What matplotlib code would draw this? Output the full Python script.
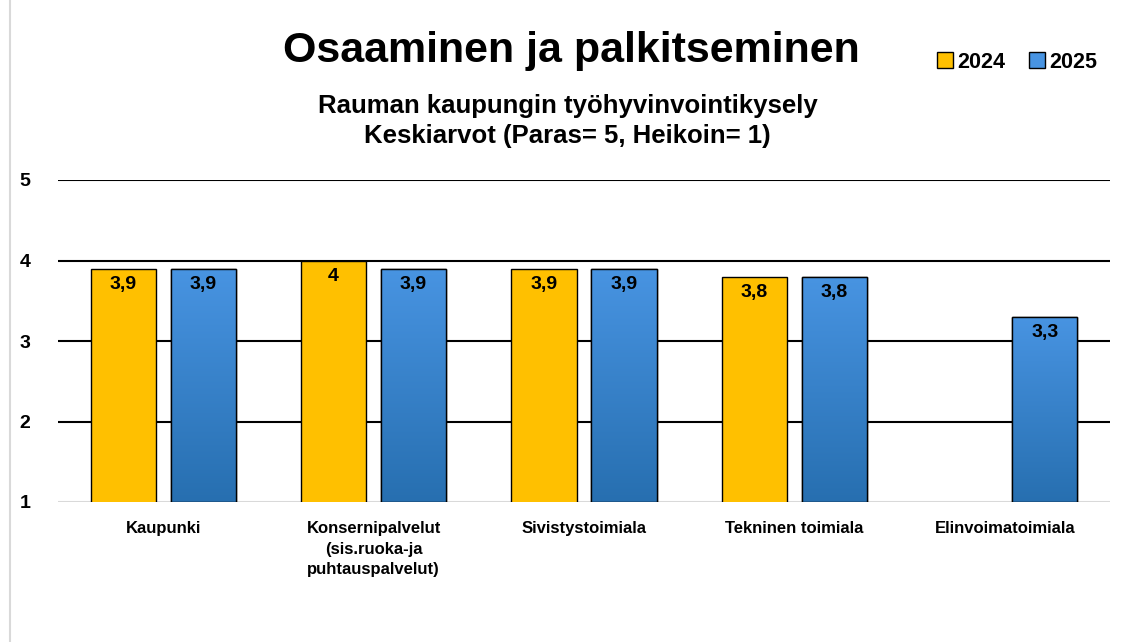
import numpy as np
import matplotlib.pyplot as plt
from matplotlib.lines import Line2D
from matplotlib.patches import Patch

plt.rcParams['font.family'] = ['Liberation Sans', 'DejaVu Sans']
plt.rcParams['font.weight'] = 'bold'

categories = ['Kaupunki', 'Konsernipalvelut\n(sis.ruoka-ja\npuhtauspalvelut)',
              'Sivistystoimiala', 'Tekninen toimiala', 'Elinvoimatoimiala']
v2024 = [3.9, 4.0, 3.9, 3.8, np.nan]
v2025 = [3.9, 3.9, 3.9, 3.8, 3.3]
yticks = [1, 2, 3, 4, 5]

yellow = '#ffc000'
blue_top = np.array([0x48, 0x94, 0xe2]) / 255
blue_bot = np.array([0x27, 0x6f, 0xb0]) / 255

fig = plt.figure(figsize=(11.26, 6.42), dpi=100)
ax = fig.add_axes([58 / 1126, 1 - 502 / 642, 1052 / 1126, 322 / 642])

x = np.arange(len(categories))
w = 0.31
off = 0.19

b1 = ax.bar(x - off, v2024, w, bottom=0, color=yellow, edgecolor='black', linewidth=1, zorder=3)
b2 = ax.bar(x + off, v2025, w, bottom=0, color=blue_top, edgecolor='black', linewidth=1, zorder=3)

# gradient fill for 2025 bars
grad = np.linspace(0, 1, 256)[:, None, None]
img = blue_top * (1 - grad) + blue_bot * grad
for bar in b2:
    h = bar.get_height()
    if np.isnan(h):
        continue
    x0 = bar.get_x()
    im = ax.imshow(img, extent=[x0, x0 + bar.get_width(), 1, h], aspect='auto',
                   origin='upper', zorder=3.5)
    im.set_clip_path(bar)
    r = plt.Rectangle((x0, 1), bar.get_width(), h - 1, fill=False,
                      edgecolor='black', linewidth=1, zorder=4)
    ax.add_patch(r)

def fmt(v):
    s = ('%.1f' % v).rstrip('0').rstrip('.')
    return s.replace('.', ',')

for bars, vals in ((b1, v2024), (b2, v2025)):
    for bar, v in zip(bars, vals):
        if np.isnan(v):
            continue
        ax.text(bar.get_x() + bar.get_width() / 2, v - 0.09, fmt(v), ha='center', va='top',
                fontsize=14, fontweight='bold', zorder=5)

ax.set_xlim(-0.5, len(categories) - 0.5)
ax.set_ylim(1, 5)
ax.set_yticks(yticks)
ax.set_yticklabels([str(t) for t in yticks], fontsize=14, fontweight='bold')
for t in yticks[1:]:
    ax.axhline(t, color='black', linewidth=1.5, zorder=1)
ax.axhline(1, color='#d9d9d9', linewidth=1.5, zorder=2)
ax.set_xticks(x)
ax.set_xticklabels(categories, fontsize=12, fontweight='bold', va='top', linespacing=1.45)
ax.tick_params(axis='both', length=0)
ax.tick_params(axis='y', pad=20)
ax.tick_params(axis='x', pad=14)
for s in ax.spines.values():
    s.set_visible(False)

fig.text(0.507, 1 - 51 / 642, 'Osaaminen ja palkitseminen', ha='center', va='center',
         fontsize=31, fontweight='bold')
fig.text(0.504, 1 - 121 / 642, 'Rauman kaupungin työhyvinvointikysely\nKeskiarvot (Paras= 5, Heikoin= 1)',
         ha='center', va='center', fontsize=18.5, fontweight='bold', linespacing=1.3)

handles = [Patch(facecolor=yellow, edgecolor='black'), Patch(facecolor=blue_top, edgecolor='black')]
fig.legend(handles, ['2024', '2025'], loc='center', bbox_to_anchor=(1017 / 1126, 1 - 62 / 642),
           ncol=2, frameon=False, handlelength=0.75, handleheight=0.75,
           handletextpad=0.2, columnspacing=1.1, prop={'weight': 'bold', 'size': 15.5})

fig.add_artist(Line2D([10 / 1126, 10 / 1126], [0, 1], color='#d9d9d9', linewidth=1.5))

fig.savefig('out.png', dpi=100)
